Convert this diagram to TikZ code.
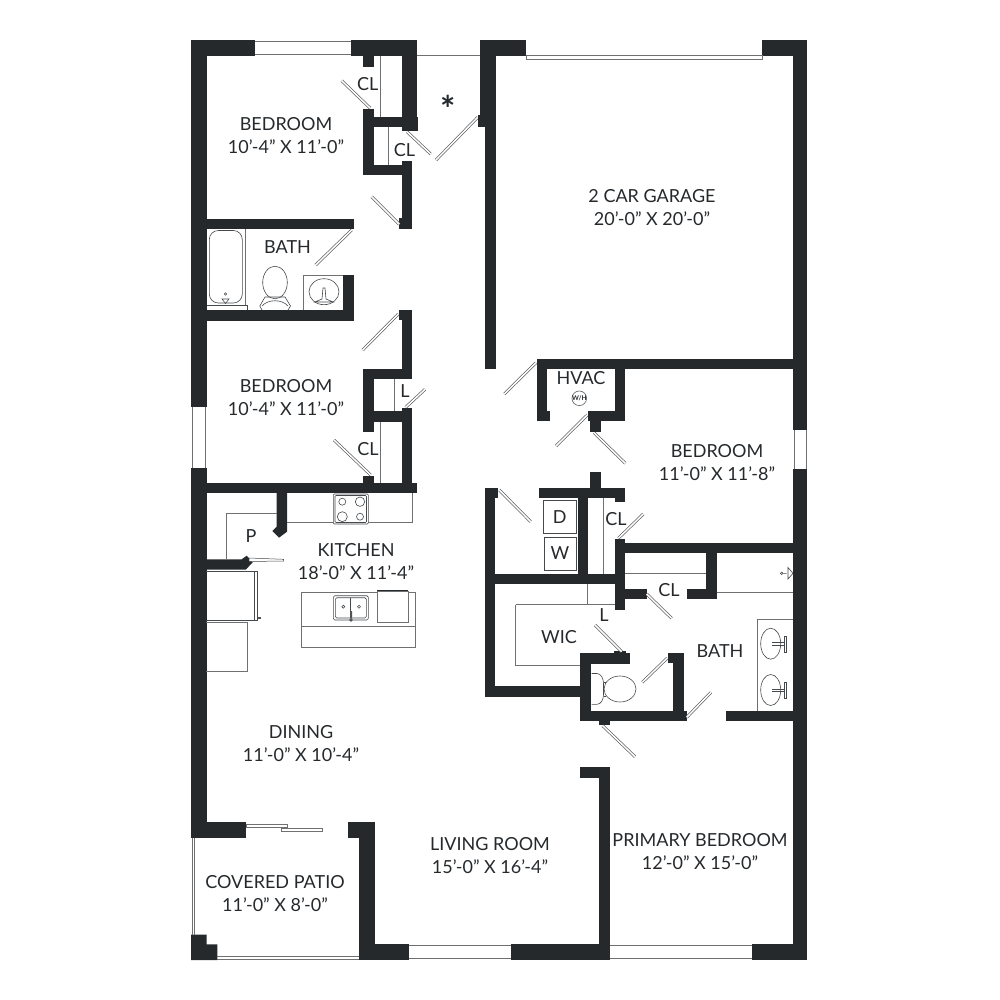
\documentclass[tikz,border=0pt]{standalone}
\usepackage{fontspec}
\setmainfont{Lato}
\usetikzlibrary{positioning}
\definecolor{wallcol}{HTML}{25292C}
\definecolor{linecol}{HTML}{6E7072}
\tikzset{
  wall/.style = {fill=wallcol, draw=none},
  thinline/.style = {draw=linecol, line width=0.7pt},
  fixture/.style = {draw=wallcol!85, line width=0.6pt},
  leaf/.style = {draw=wallcol!75, line width=0.7pt, double=white, double distance=1.5pt},
  pane/.style = {draw=linecol, line width=0.9pt},
  roomlabel/.style = {align=center, inner sep=0pt, text=wallcol,
    font=\fontsize{18}{23}\selectfont},
  applabel/.style = {roomlabel, font=\fontsize{18}{18}\selectfont}
}
\begin{document}
\begin{tikzpicture}[x=1pt,y=-1pt]
        \useasboundingbox (0,0) rectangle (1000,1000);

        % outer walls
        \fill[wall] (191,40) rectangle (207,407);
        \fill[wall] (191,468) rectangle (207,838);
        \fill[wall] (191,40) rectangle (254.5,56);
        \fill[wall] (351,40) rectangle (417,56);
        \fill[wall] (480,40) rectangle (526,56);
        \fill[wall] (762,40) rectangle (807,56);
        \fill[wall] (792.5,40) rectangle (807,429.5);
        \fill[wall] (792.5,469) rectangle (807,960);
        \fill[wall] (752,944) rectangle (807,960);
        \fill[wall] (511,944) rectangle (610,960);
        \fill[wall] (359.5,944) rectangle (408.5,960);
        \fill[wall] (191,934.5) -- (206.7,934.5) -- (206.7,944.3) -- (217.3,944.3) -- (217.3,960) -- (191,960) -- cycle;

        % windows and garage door
        \draw[pane] (254.5,41.5) -- (351,41.5) (254.5,54.5) -- (351,54.5);
        \draw[pane] (192.7,407) -- (192.7,468) (205,407) -- (205,468);
        \draw[pane] (794.3,429.5) -- (794.3,469) (806,429.5) -- (806,469);
        \draw[pane] (408.5,945.5) -- (511,945.5) (408.5,958.5) -- (511,958.5);
        \draw[pane] (610,945.5) -- (752,945.5) (610,958.5) -- (752,958.5);
        \draw[pane] (526,55.7) rectangle (762,59);
        \draw[pane] (192,838) -- (192,934.5) (194,838) -- (194,934.5);
        \draw[pane] (217,956) -- (359.5,956) (217,959.3) -- (359.5,959.3);
        \draw[thinline] (417,55.7) -- (480,55.7);

        % top left closets
        \fill[wall] (363,56) rectangle (374,67.5);
        \fill[wall] (401.7,40) rectangle (417,117);
        \fill[wall] (401.7,117) rectangle (418,130.7);
        \fill[wall] (363,116.7) rectangle (402,127.3);
        \fill[wall] (363,108.7) rectangle (374,175);
        \fill[wall] (363,165) rectangle (412,175);
        \fill[wall] (401.7,161) rectangle (412,229);
        \fill[wall] (399,218) rectangle (412,229);
        \draw[thinline] (380.7,56) -- (380.7,116.7);
        \draw[thinline] (388.7,127.3) -- (388.7,165);

        % garage left wall
        \fill[wall] (480,40) rectangle (496,127.3);
        \fill[wall] (484.7,127) rectangle (496,369.3);

        % front bath
        \fill[wall] (206,218.7) rectangle (354.3,229);
        \fill[wall] (206,310) rectangle (354.3,320.7);
        \fill[wall] (343.3,275) rectangle (354.3,310);
        \draw[thinline] (245,229) -- (245,305);
        \draw[fixture, rounded corners=9pt] (209.3,303) -- (209.3,230.5) -- (242.3,230.5) -- (242.3,303) -- cycle;
        \draw[fixture] (207,305) -- (247.3,305) -- (247.3,310);
        \draw[fixture] (225.5,294) circle (1.3) (222,299) -- (229,299) -- (225.5,303.5) -- cycle;
        \draw[fixture] (275,282.5) ellipse (12.3 and 16.3);
        \draw[fixture] (265,297) -- (285,297) -- (290.5,306) -- (288,310) (265,297) -- (259.8,306) -- (262,310);
        \draw[fixture] (262,306) .. controls (268,299) and (282,299) .. (288,306);
        \draw[thinline] (343.3,275) -- (303.3,275) -- (303.3,310);
        \draw[fixture] (324,291.7) ellipse (15 and 13);
        \draw[fixture] (323,288) -- (322,299) -- (315,302) -- (333,302) -- (326,299) -- (325,288) -- cycle;

        % second bedroom closets
        \fill[wall] (399,310) rectangle (412,320);
        \fill[wall] (401.7,310) rectangle (412,379);
        \fill[wall] (363,368.7) rectangle (412,379);
        \fill[wall] (363,368.7) rectangle (374,431.7);
        \fill[wall] (363,411) rectangle (412,422);
        \fill[wall] (401.7,408) rectangle (412,490);
        \fill[wall] (363,475.7) rectangle (374,483);
        \fill[wall] (191,482.7) rectangle (417,493.3);
        \draw[thinline] (394,379) -- (394,411);
        \draw[thinline] (380.7,422) -- (380.7,482.7);

        % kitchen
        \fill[wall] (276.7,493) -- (287,493) -- (287,531.7) -- (279,537.7) -- (272.3,531) -- (276.7,526.7) -- cycle;
        \fill[wall] (206,559.3) -- (241.7,559.3) -- (246.7,555.7) -- (252.7,562.3) -- (245.7,569.7) -- (206,569.7) -- cycle;
        \draw[thinline] (276.7,513.3) -- (226.7,513.3) -- (226.7,559.3);
        \draw[thinline] (287,522.7) -- (412.7,522.7) -- (412.7,493.3);
        \draw[fixture, fill=white, rounded corners=1pt] (333.3,494) rectangle (368.3,524);
        \draw[fixture, rounded corners=1pt] (335,495.5) rectangle (366.5,522.5);
        \draw[fixture] (342.3,501.7) circle (3.5) (360,501.7) circle (4.7) (342.3,516.7) circle (5) (360,516.7) circle (3.5);
        \draw[fixture] (206,571.7) -- (254,571.7) -- (254,620.7) -- (206,620.7);
        \draw[fixture] (254,571.7) -- (257.7,571.7) -- (257.7,620.7) -- (254,620.7);
        \fill[wallcol!80] (258,616.5) rectangle (260.5,619);
        \draw[thinline] (206,622.7) -- (247.3,622.7) -- (247.3,671.3) -- (206,671.3);
        \draw[thinline] (301.7,592) rectangle (415.3,647.7);
        \draw[thinline] (301.7,626.7) -- (415.3,626.7);
        \draw[fixture, rounded corners=1.5pt] (333.3,595.7) rectangle (368.3,620);
        \draw[fixture, rounded corners=1.5pt] (335.3,597.7) rectangle (366.3,618);
        \draw[fixture] (350.7,597.7) -- (350.7,618);
        \draw[fixture] (343.3,606.7) circle (1.5) (359,606.7) circle (1.5);
        \fill[wallcol!80] (350,611) rectangle (352,618) (351,620) circle (1.8);
        \draw[thinline, fill=white] (377.3,591.7) rectangle (408,622.7);
        \draw[draw=wallcol, line width=1pt] (377.3,590.5) -- (408,590.5);

        % sliding door
        \draw[pane, line width=0.6pt] (246,824.3) rectangle (287.3,827.7);
        \draw[pane, line width=0.6pt, fill=white] (281.7,828) rectangle (322.7,831.3);

        % patio and living room walls
        \fill[wall] (191,822) rectangle (246,837.7);
        \fill[wall] (348.3,822) rectangle (375.3,837.7);
        \fill[wall] (359.3,822) rectangle (375.3,960);
        \fill[wall] (580,767) rectangle (609.7,777.7);
        \fill[wall] (599,767) rectangle (609.7,950);

        % hvac
        \fill[wall] (536.7,359) rectangle (793,369.3);
        \fill[wall] (536.7,359) rectangle (547.3,421.3);
        \fill[wall] (536.7,410.7) rectangle (550.3,421.3);
        \fill[wall] (615,369) rectangle (625,421);
        \fill[wall] (587.7,410.7) rectangle (625,421);
        \fill[wall] (590,421) rectangle (600.7,432);
        \draw[draw=linecol, line width=0.7pt] (579.3,398.3) circle (7.3);

        % laundry
        \fill[wall] (539.3,487.7) rectangle (625,498.3);
        \fill[wall] (590,472.3) rectangle (600.7,488);
        \fill[wall] (615,498) rectangle (625,502.3);
        \fill[wall] (578,498) rectangle (588.3,578);
        \fill[wall] (484.7,487.7) rectangle (495.3,696.7);
        \fill[wall] (484.7,487.7) rectangle (498.3,498);
        \fill[wall] (484.7,573.7) rectangle (618,584.3);
        \draw[fixture] (543.3,500.7) rectangle (576,533);
        \draw[fixture] (544,537.7) rectangle (576.7,570);
        \draw[thinline] (603.3,498) -- (603.3,574);

        % master bath walls
        \fill[wall] (615,538.7) rectangle (625,610);
        \fill[wall] (615,542.7) rectangle (793,553.3);
        \fill[wall] (706,553) rectangle (716.7,599.3);
        \fill[wall] (686.7,589.3) rectangle (716.7,599.3);
        \fill[wall] (620,589.3) rectangle (646.7,599.3);
        \fill[wall] (484.7,686) rectangle (590,696.7);
        \fill[wall] (580.3,652.7) rectangle (591,721.3);
        \fill[wall] (580.3,652.7) rectangle (629.7,663.7);
        \fill[wall] (614,650.7) rectangle (625.7,653);
        \fill[wall] (673.3,652.7) rectangle (683.7,721.3);
        \fill[wall] (667.7,652.7) rectangle (683.7,663.3);
        \fill[wall] (580.3,710.7) rectangle (686.7,721.3);
        \fill[wall] (599,721) rectangle (609.7,725);
        \fill[wall] (726,710.7) rectangle (793,721.3);
        \draw[thinline] (625,573.3) -- (706,573.3);
        \draw[pane, line width=1.1pt] (716.7,592.7) -- (793,592.7);
        \draw[thinline] (515.7,604.7) -- (615,604.7);
        \draw[thinline] (587,584) -- (587,604.7);
        \draw[thinline] (515.7,604.7) -- (515.7,665.7) -- (580.3,665.7);

        % master bath fixtures
        \draw[fixture] (781.7,573.3) circle (1.3) (783,573.3) -- (786.5,573.3);
        \draw[fixture] (788,567.5) -- (793,573.3) -- (788,579) -- cycle;
        \draw[thinline] (793,619.3) -- (757.7,619.3) -- (757.7,710.7);
        \draw[fixture] (770.7,643.7) ellipse (10 and 15.5) (770.7,690) ellipse (10 and 15.5);
        \draw[fixture] (772,642.5) -- (784,642.5) (772,645) -- (784,645) (784,636) -- (786,636) -- (786,652) -- (784,652) -- cycle;
        \draw[fixture] (772,688.8) -- (784,688.8) (772,691.2) -- (784,691.2) (784,682) -- (786,682) -- (786,698) -- (784,698) -- cycle;
        \draw[fixture] (620,689) ellipse (16 and 13);
        \draw[fixture, rounded corners=3pt] (591.7,673.5) -- (600,673.5) -- (603.5,680) -- (603.5,698) -- (600,704.3) -- (591.7,704.3);
        \draw[fixture] (603.5,682) -- (606,682) (603.5,696) -- (606,696);

        % doors
        \draw[leaf] (341.7,80.7) -- (370,108);
        \draw[leaf] (407,131.7) -- (430.7,154);
        \draw[leaf] (436,160) -- (477.7,117.3);
        \fill[wall] (477.7,115) rectangle (485,127.3);
        \draw[leaf] (371.7,196.7) -- (399.3,224.3);
        \draw[leaf] (315.7,265) -- (351.7,230);
        \draw[leaf] (362.7,350) -- (398.3,314);
        \draw[leaf] (405.7,407.3) -- (425,389.3);
        \draw[leaf] (334,440) -- (370.7,475);
        \draw[leaf] (504.3,394) -- (536,362.7);
        \draw[leaf] (556,446) -- (587.3,415);
        \draw[leaf] (594,432.7) -- (625.3,463.3);
        \draw[leaf] (499.3,490) -- (530.7,521.7);
        \draw[leaf] (618.3,538.3) -- (643.3,514);
        \draw[leaf] (646.7,594) -- (671.7,618.3);
        \draw[leaf] (595,625) -- (621.7,651.7);
        \draw[leaf] (642.3,682.3) -- (667.3,658);
        \draw[leaf] (686.7,717.3) -- (711,692.3);
        \draw[leaf] (602.7,725.7) -- (635,756.7);
        \draw[fixture, fill=white, line width=0.5pt] (249,558) -- (283.5,559.3) -- (283.5,561) -- (249,561.5) -- cycle;

        % labels
        \node[roomlabel] (bedA) at (286,135.7) {BEDROOM\\10'-4" X 11'-0"};
        \node[roomlabel] (bedB) at (286,397.5) {BEDROOM\\10'-4" X 11'-0"};
        \node[roomlabel] (bedC) at (717,462.5) {BEDROOM\\11'-0" X 11'-8"};
        \node[roomlabel] (garage) at (652,207.5) {2 CAR GARAGE\\20'-0" X 20'-0"};
        \node[roomlabel] (kitchen) at (356,562) {KITCHEN\\18'-0" X 11'-4"};
        \node[roomlabel] (dining) at (301,743.5) {DINING\\11'-0" X 10'-4"};
        \node[roomlabel] (living) at (490,856) {LIVING ROOM\\15'-0" X 16'-4"};
        \node[roomlabel] (primary) at (700,851.5) {PRIMARY BEDROOM\\12'-0" X 15'-0"};
        \node[roomlabel] (patio) at (275,894) {COVERED PATIO\\11'-0" X 8'-0"};
        \node[applabel] (bathA) at (287.5,247.5) {BATH};
        \node[applabel] (bathB) at (720,651) {BATH};
        \node[applabel] (wic) at (559,637) {WIC};
        \node[applabel] (hvac) at (581,378) {HVAC};
        \node[applabel] (clA) at (367.7,84.5) {CL};
        \node[applabel] (clB) at (404.5,150) {CL};
        \node[applabel] (clC) at (368,449) {CL};
        \node[applabel] (clD) at (616,519) {CL};
        \node[applabel] (clE) at (669,590) {CL};
        \node[applabel] (linA) at (405,391) {L};
        \node[applabel] (linB) at (604,615) {L};
        \node[applabel] (pantry) at (251,536) {P};
        \node[applabel] (dryer) at (559.7,517) {D};
        \node[applabel] (washer) at (560,553) {W};
        \node[inner sep=0pt, text=wallcol, font=\fontsize{6.5}{7}\selectfont\bfseries] (heater) at (579.3,398.3) {W/H};
        \node[inner sep=0pt, text=wallcol, font=\fontsize{36}{36}\selectfont\bfseries] (star) at (448,109) {*};

\end{tikzpicture}
\end{document}
